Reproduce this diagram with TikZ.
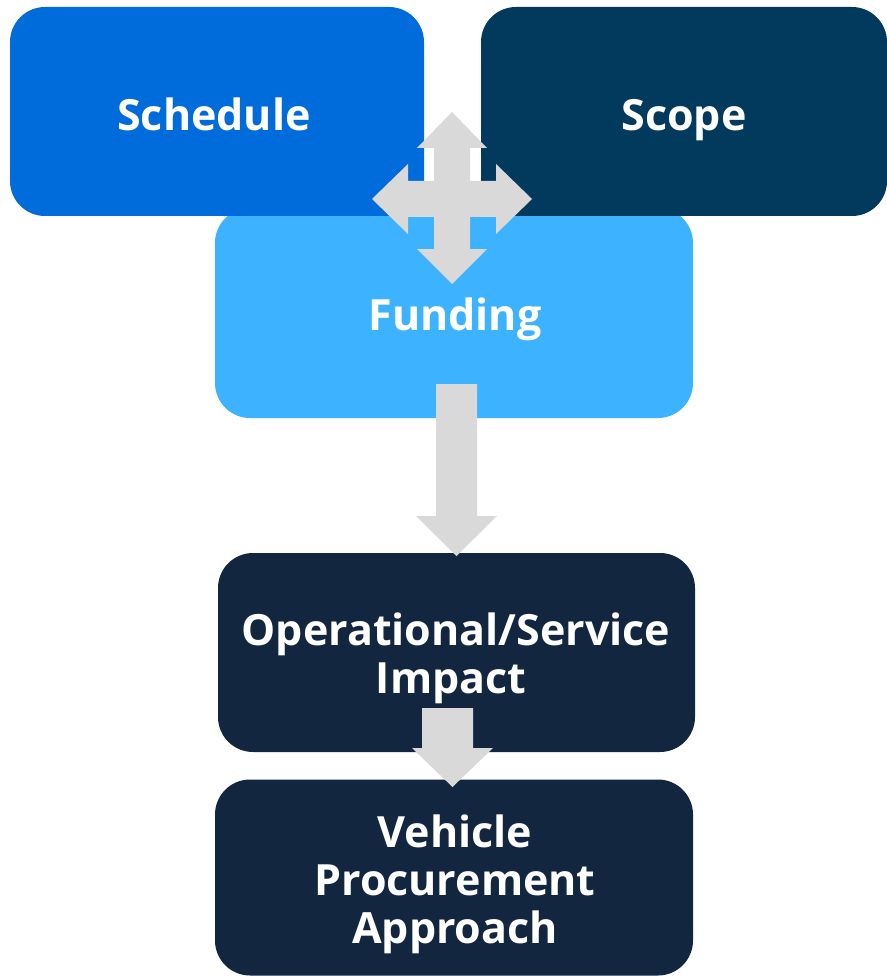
\documentclass[tikz,border=0pt]{standalone}
\usepackage{fontspec}
\setmainfont{Open Sans}
\definecolor{cSched}{HTML}{006CDC}
\definecolor{cScope}{HTML}{023A5E}
\definecolor{cFund}{HTML}{3DB2FF}
\definecolor{cDark}{HTML}{12263F}
\definecolor{cArrow}{HTML}{D9D9D9}
\begin{document}
\begin{tikzpicture}[x=1pt,y=-1pt,
  box/.style={rectangle, rounded corners=35pt, inner sep=0pt},
  lbl/.style={anchor=base, inner sep=0pt, text=white,
    font=\fontsize{43}{48}\selectfont\bfseries},
  blockarrow/.style={fill=cArrow}]
\useasboundingbox (0,0) rectangle (886,976);
% Funding (behind)
\node[box, fill=cFund, minimum width=478pt, minimum height=210pt] (fund) at (454,313) {};
\node[lbl] (fundt) at (455,330) {Funding};
% Schedule and Scope
\node[box, fill=cSched, minimum width=414pt, minimum height=209pt] (sched) at (217,111.5) {};
\node[lbl] (schedt) at (214,131) {Schedule};
\node[box, fill=cScope, minimum width=406pt, minimum height=209pt] (scope) at (684,111.5) {};
\node[lbl] (scopet) at (684,131) {Scope};
% four-way arrow
\coordinate (hub) at (452,199);
\fill[blockarrow] (452,112) -- (487,148) -- (470,148) -- (470,181) -- (496,181) -- (496,164)
  -- (532,199) -- (496,234) -- (496,217) -- (470,217) -- (470,249) -- (487,249)
  -- (452,284) -- (417,249) -- (434,249) -- (434,217) -- (408,217) -- (408,234)
  -- (372,199) -- (408,164) -- (408,181) -- (434,181) -- (434,148) -- (417,148) -- cycle;
% Operational and Vehicle
\node[box, fill=cDark, minimum width=477pt, minimum height=199pt] (oper) at (456.5,652.5) {};
\node[lbl] (opert1) at (456,645) {Operational/Service};
\node[lbl] (opert2) at (451,693) {Impact};
\node[box, fill=cDark, minimum width=478pt, minimum height=196pt] (veh) at (454,877.5) {};
\node[lbl] (veht1) at (455,847) {Vehicle};
\node[lbl] (veht2) at (455,895) {Procurement};
\node[lbl] (veht3) at (455,943) {Approach};
% arrow funding -> operational
\fill[blockarrow] (436,384) -- (477,384) -- (477,516) -- (497,516) -- (456.5,556)
  -- (416,516) -- (436,516) -- cycle;
% arrow operational -> vehicle
\fill[blockarrow] (422,708) -- (473,708) -- (473,748) -- (493,748) -- (452.5,787)
  -- (412,748) -- (422,748) -- cycle;
\end{tikzpicture}
\end{document}
